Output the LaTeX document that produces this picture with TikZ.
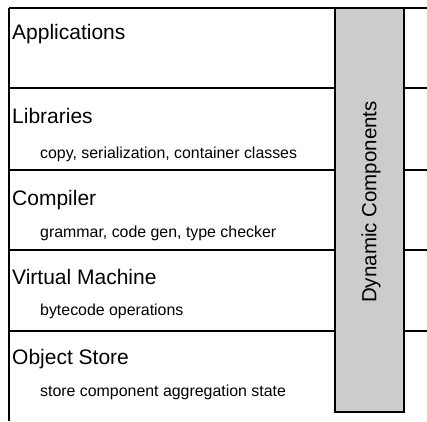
\documentclass[tikz,border=0pt]{standalone}
\usepackage{fontspec}
\setmainfont{Liberation Sans}
\begin{document}
\begin{tikzpicture}[x=1pt,y=-1pt,
  rule/.style={line width=2pt, black},
  layertitle/.style={anchor=base west, inner sep=0pt, font=\fontsize{21}{25}\selectfont},
  layerdetail/.style={anchor=base west, inner sep=0pt, font=\fontsize{15.9}{19}\selectfont},
  sidebar/.style={draw=black, line width=2pt, fill=black!20, minimum width=69pt, minimum height=404pt, inner sep=0pt}]
  \useasboundingbox (0,0) rectangle (427,421);

  % layer boundaries (left edge and horizontal separators)
  \coordinate (tl) at (9,8);
  \coordinate (bl) at (9,421);
  \draw[rule] (tl) -- (bl);
  \foreach \y/\n in {8/a,88/b,170/c,250/d,331/e} {
    \coordinate (L\n) at (9,\y);
    \coordinate (R\n) at (427,\y);
    \draw[rule] (L\n) -- (R\n);
  }

  % layer labels
  \node[layertitle]  (apps)   at (12,39)  {Applications};
  \node[layertitle]  (libs)   at (12,123) {Libraries};
  \node[layerdetail] (libsd)  at (40,158) {copy, serialization, container classes};
  \node[layertitle]  (comp)   at (12,205) {Compiler};
  \node[layerdetail] (compd)  at (40,237) {grammar, code gen, type checker};
  \node[layertitle]  (vm)     at (12,284) {Virtual Machine};
  \node[layerdetail] (vmd)    at (40,315) {bytecode operations};
  \node[layertitle]  (store)  at (12,364) {Object Store};
  \node[layerdetail] (stored) at (40,396) {store component aggregation state};

  % vertical bar spanning all layers
  \node[sidebar] (dyn) at (369.5,210) {};
  \node[rotate=90, inner sep=0pt, font=\fontsize{20.5}{24}\selectfont] (dynlabel) at (371,202) {Dynamic Components};
\end{tikzpicture}
\end{document}
